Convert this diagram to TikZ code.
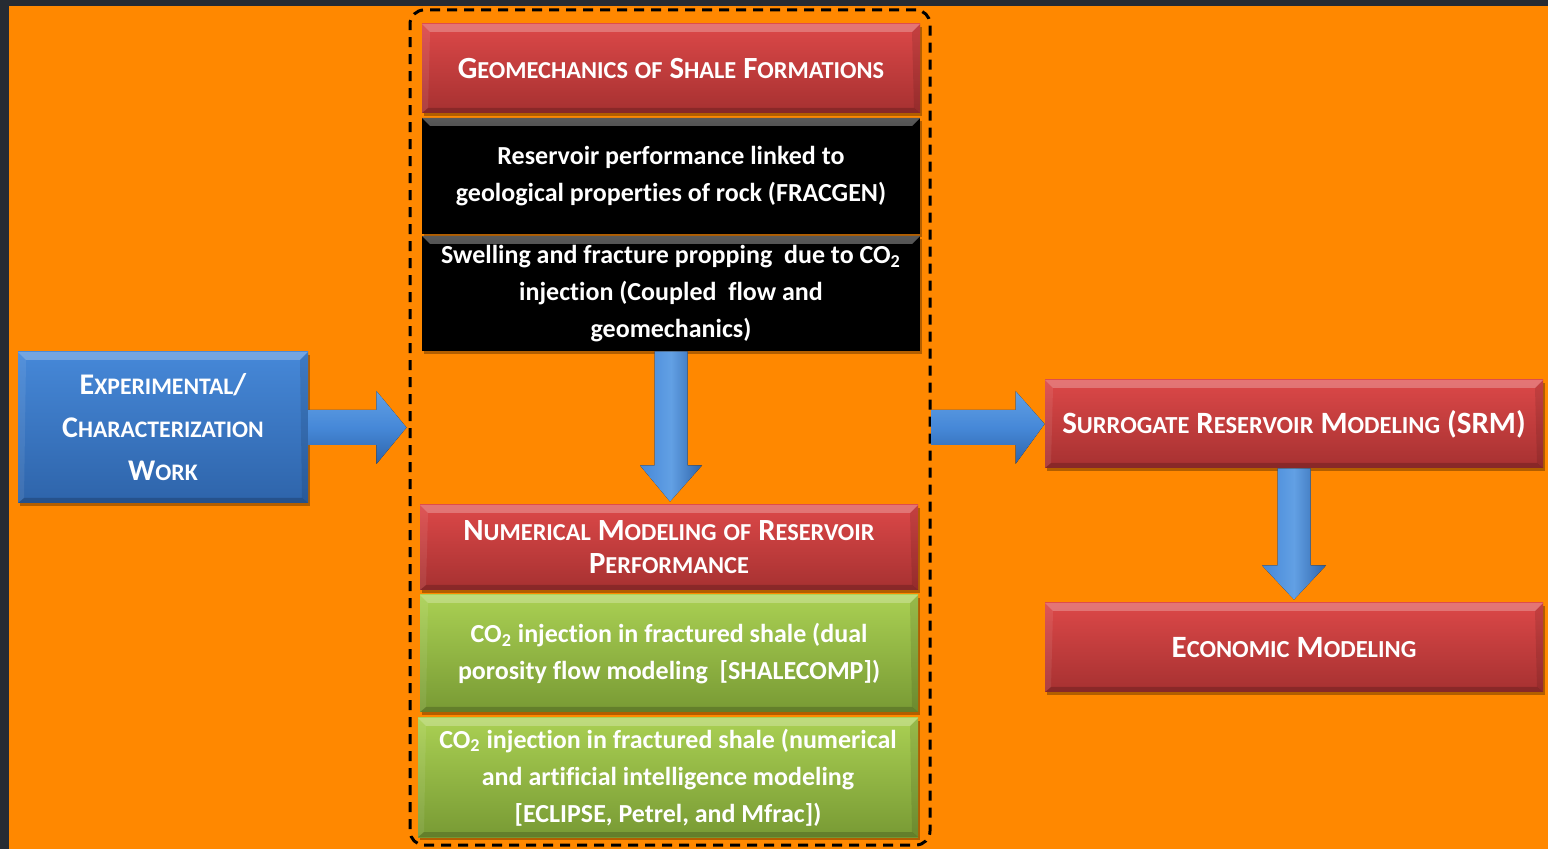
\documentclass[tikz,border=0pt]{standalone}
\usepackage{fontspec}
\setmainfont{Carlito}[Ligatures={NoCommon,NoContextual}]
\usetikzlibrary{shadows,calc}
\definecolor{bgdark}{HTML}{262B33}
\definecolor{orangebg}{HTML}{FF8800}
\definecolor{redtop}{HTML}{DC4848}
\definecolor{redbot}{HTML}{A63131}
\definecolor{bluetop}{HTML}{4688D8}
\definecolor{bluebot}{HTML}{2E64AA}
\definecolor{bluemid}{HTML}{62A0E4}
\definecolor{grntop}{HTML}{AAD053}
\definecolor{grnbot}{HTML}{789A34}
\makeatletter
\newcommand\lc[1]{{\fontsize{\fpeval{0.79*\f@size}}{\f@baselineskip}\selectfont #1}}
\makeatother
\tikzset{
  bevel/.style={path picture={
    \fill[white,opacity=0.25] (path picture bounding box.north west) -- (path picture bounding box.north east)
      -- ([shift={(-4pt,-4pt)}]path picture bounding box.north east) -- ([shift={(4pt,-4pt)}]path picture bounding box.north west) -- cycle;
    \fill[black,opacity=0.18] (path picture bounding box.south west) -- (path picture bounding box.south east)
      -- ([shift={(-3pt,2.5pt)}]path picture bounding box.south east) -- ([shift={(3pt,2.5pt)}]path picture bounding box.south west) -- cycle;
    \fill[white,opacity=0.08] (path picture bounding box.north west) -- ([shift={(4pt,-4pt)}]path picture bounding box.north west)
      -- ([shift={(3pt,2.5pt)}]path picture bounding box.south west) -- (path picture bounding box.south west) -- cycle;
    \fill[black,opacity=0.1] (path picture bounding box.north east) -- ([shift={(-4pt,-4pt)}]path picture bounding box.north east)
      -- ([shift={(-3pt,2.5pt)}]path picture bounding box.south east) -- (path picture bounding box.south east) -- cycle;
  }},
  boxbase/.style={bevel, inner sep=0pt, align=center, text=white,
    drop shadow={shadow xshift=1pt, shadow yshift=-1.5pt, opacity=0.3, fill=black},
    font=\bfseries\fontsize{13}{18.5}\selectfont},
  redbox/.style={boxbase, top color=redtop, bottom color=redbot, minimum width=249pt},
  titlefont/.style={font=\bfseries\fontsize{15.4}{16.5}\selectfont},
  bluebox/.style={boxbase, top color=bluetop, bottom color=bluebot},
  grnbox/.style={boxbase, top color=grntop, bottom color=grnbot, minimum width=249pt},
  blkbox/.style={boxbase, fill=black, minimum width=249pt,
    path picture={\shade[top color=black!65, bottom color=black] (path picture bounding box.north west) -- (path picture bounding box.north east)
      -- ([shift={(-4pt,-4pt)}]path picture bounding box.north east) -- ([shift={(4pt,-4pt)}]path picture bounding box.north west) -- cycle;}},
  harrow/.style={top color=bluemid, bottom color=bluebot, middle color=bluetop},
  varrow/.style={left color=bluetop, right color=bluebot, middle color=bluemid},
  groupbox/.style={draw=black, line width=1.5pt, dash pattern=on 5pt off 3.5pt, rounded corners=7pt}
}
\begin{document}
\begin{tikzpicture}[x=0.5pt,y=-0.5pt]
\fill[bgdark] (0,0) rectangle (1548,849);
\fill[orangebg] (9,6) rectangle (1548,849);
\useasboundingbox (0,0) rectangle (1548,849);

\node[groupbox, minimum width=260pt, minimum height=417.5pt] (grp) at (670,427.5) {};

\node[bluebox, minimum width=145pt, minimum height=75.5pt, font=\bfseries\fontsize{15}{21.5}\selectfont] (exp) at (163,427.5)
  {E\lc{XPERIMENTAL}/\\C\lc{HARACTERIZATION}\\W\lc{ORK}};

\node[redbox, minimum height=44.5pt, titlefont] (geo) at (671,68.5)
  {G\lc{EOMECHANICS} \lc{OF} S\lc{HALE} F\lc{ORMATIONS}};
\node[blkbox, minimum height=58pt] (blk1) at (671,176)
  {Reservoir performance linked to\\geological properties of rock (FRACGEN)};
\node[blkbox, minimum height=57.5pt] (blk2) at (671,293.5)
  {Swelling and fracture propping\ \ due to CO\textsubscript{2}\\injection (Coupled\ \ flow and\\geomechanics)};
\node[redbox, minimum height=42.5pt, titlefont] (num) at (669,547.5)
  {N\lc{UMERICAL} M\lc{ODELING} \lc{OF} R\lc{ESERVOIR}\\P\lc{ERFORMANCE}};
\node[grnbox, minimum height=58.5pt] (grn1) at (669,653.5)
  {CO\textsubscript{2} injection in fractured shale (dual\\porosity flow modeling\ \ [SHALECOMP])};
\node[grnbox, minimum width=250pt, minimum height=59.5pt] (grn2) at (668,777.5)
  {CO\textsubscript{2} injection in fractured shale (numerical\\and artificial intelligence modeling\\{[ECLIPSE}, Petrel, and Mfrac])};

\node[redbox, minimum height=44pt, font=\bfseries\fontsize{15.5}{20}\selectfont] (srm) at (1294,424)
  {S\lc{URROGATE} R\lc{ESERVOIR} M\lc{ODELING} (SRM)};
\node[redbox, minimum height=44.5pt, font=\bfseries\fontsize{15.5}{20}\selectfont] (eco) at (1294,647.5)
  {E\lc{CONOMIC} M\lc{ODELING}};

% block arrows
\fill[harrow] ($(exp.east)+(0,-17.5)$) -- ++(68,0) -- ++(0,-19) -- ($(grp.west)+(-2,0)$)
  -- ($(exp.east)+(68,36.5)$) -- ++(0,-19) -- ($(exp.east)+(0,17.5)$) -- cycle;
\fill[harrow] ($(grp.east)+(0,-17.5)$) -- ++(84,0) -- ++(0,-19) -- (srm.west)
  -- ($(grp.east)+(84,36.5)$) -- ++(0,-19) -- ($(grp.east)+(0,17.5)$) -- cycle;
\fill[varrow] ($(blk2.south)+(-16.5,0)$) -- ($(blk2.south)+(16.5,0)$) -- ++(0,114) -- ++(14.5,0)
  -- ($(num.north)+(1,-3)$) -- ($(blk2.south)+(-31,114)$) -- ++(14.5,0) -- cycle;
\fill[varrow] ($(srm.south)+(-16.5,0)$) -- ($(srm.south)+(16.5,0)$) -- ++(0,97) -- ++(15.5,0)
  -- ($(eco.north)+(0,-3)$) -- ($(srm.south)+(-32,97)$) -- ++(15.5,0) -- cycle;
\end{tikzpicture}
\end{document}
